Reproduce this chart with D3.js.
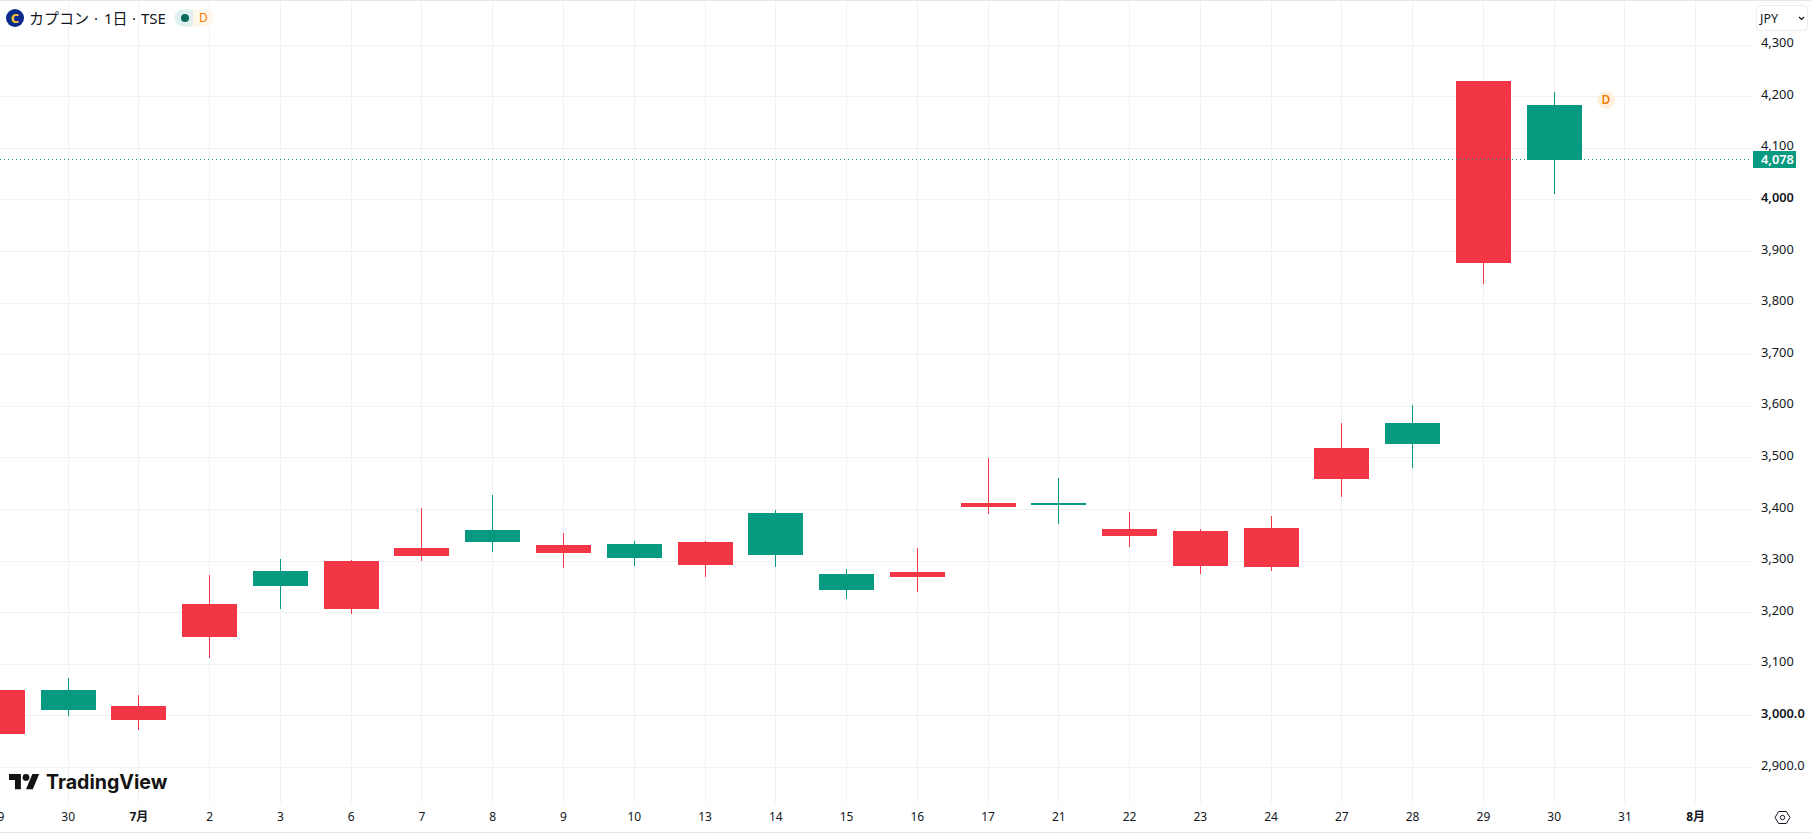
<!DOCTYPE html>
<html lang="ja">
<head>
<meta charset="utf-8">
<title>カプコン 1日足</title>
<script src="https://cdn.jsdelivr.net/npm/d3@7/dist/d3.min.js"></script>
<style>
  html, body { margin: 0; padding: 0; background: #fff; overflow: hidden; }
  svg { display: block; }
  text { font-family: "Noto Sans", "Noto Sans CJK JP", sans-serif; fill: #131722; }
</style>
</head>
<body>
<svg id="chart" width="1811" height="837"></svg>
<script>
// Daily sessions: the last two slots on the time axis have no trades yet.
const sessions = ["06-29","06-30","07-01","07-02","07-03","07-06","07-07","07-08","07-09","07-10","07-13","07-14","07-15","07-16","07-17","07-21","07-22","07-23","07-24","07-27","07-28","07-29","07-30","07-31","08-01"];
const timeLabels = ["29","30","7月","2","3","6","7","8","9","10","13","14","15","16","17","21","22","23","24","27","28","29","30","31","8月"];

// OHLC per traded session, in yen.
const opens  = [2964,3051,2993,3152,3281,3208,3310,3360,3316,3333,3292,3393.5,3275,3269,3405,3413,3349,3291,3289,3459,3568,3877,4185];
const highs  = [3051,3074,3041,3273,3304,3302,3403,3429,3355,3339,3339,3399,3284,3325,3499,3462,3395.5,3363,3388,3568,3602.5,4230,4210];
const lows   = [2964,3000.5,2973.5,3113,3206.5,3197,3300,3318,3286,3290,3269,3288,3226,3240,3392,3372,3327,3275,3281,3424.5,3481,3837,4011];
const closes = [3051,3012,3020,3216,3251,3300,3325,3337,3331,3306,3337,3312,3243.5,3279,3413,3409,3362,3359,3364.5,3519,3527,4230,4078];

const priceTicks = [2900,3000,3100,3200,3300,3400,3500,3600,3700,3800,3900,4000,4100,4200,4300];
const priceLabels = ["2,900.0","3,000.0","3,100","3,200","3,300","3,400","3,500","3,600","3,700","3,800","3,900","4,000","4,100","4,200","4,300"];
const boldPrices = [3000,4000];
const lastPrice = 4078;

const UP = "#f23645", DOWN = "#089981", GRID = "#f1f2f4";
const paneRight = 1752, paneBottom = 803, bodyWidth = 55;

const x = d3.scalePoint().domain(sessions).range([-2.58, 1695.66]);
const y = d3.scaleLinear().domain([2900, 4300]).range([767.5, 45.2]);
const crisp = v => Math.floor(v) + 0.5;

const svg = d3.select("#chart");

// Frame lines along the top and bottom edges.
svg.append("g").attr("stroke", "#e6e7ea").selectAll("line")
  .data([0.5, 832.5]).join("line")
  .attr("x1", 0).attr("x2", 1811).attr("y1", d => d).attr("y2", d => d);

// Grid.
const grid = svg.append("g").attr("stroke", GRID).attr("stroke-width", 1);
grid.selectAll(".h").data(priceTicks).join("line").attr("class", "h")
  .attr("x1", 0).attr("x2", paneRight)
  .attr("y1", d => crisp(y(d))).attr("y2", d => crisp(y(d)));
grid.selectAll(".v").data(sessions).join("line").attr("class", "v")
  .attr("y1", 1).attr("y2", paneBottom)
  .attr("x1", d => crisp(x(d))).attr("x2", d => crisp(x(d)));

// Candles.
const candles = opens.map((o, i) => ({
  session: sessions[i], open: o, high: highs[i], low: lows[i], close: closes[i]
}));
const candle = svg.append("g").attr("shape-rendering", "crispEdges")
  .selectAll("g").data(candles).join("g")
  .attr("fill", d => d.close >= d.open ? UP : DOWN);
candle.append("rect")
  .attr("x", d => Math.floor(x(d.session)))
  .attr("width", 1)
  .attr("y", d => Math.round(y(d.high)))
  .attr("height", d => Math.round(y(d.low)) - Math.round(y(d.high)));
candle.append("rect")
  .attr("x", d => Math.floor(x(d.session)) - 27)
  .attr("width", bodyWidth)
  .attr("y", d => Math.round(y(Math.max(d.open, d.close))))
  .attr("height", d => Math.max(2, Math.round(y(Math.min(d.open, d.close))) - Math.round(y(Math.max(d.open, d.close)))));

// Last-price line.
svg.append("line")
  .attr("x1", 0).attr("x2", paneRight)
  .attr("y1", crisp(y(lastPrice))).attr("y2", crisp(y(lastPrice)))
  .attr("stroke", DOWN).attr("stroke-width", 1)
  .attr("stroke-dasharray", "1 3");

// Price axis.
const priceAxis = d3.axisRight(y)
  .tickValues(priceTicks)
  .tickSize(0)
  .tickPadding(0)
  .tickFormat((d, i) => priceLabels[i]);
const priceG = svg.append("g")
  .attr("transform", "translate(1761,-2.5)")
  .call(priceAxis);
priceG.select(".domain").remove();
priceG.selectAll("text")
  .attr("font-size", 12.8)
  .attr("font-family", null)
  .attr("font-weight", d => boldPrices.includes(d) ? 600 : 400);

// Last-price tag.
svg.append("rect").attr("x", 1753).attr("y", 151).attr("width", 43).attr("height", 17).attr("fill", DOWN);
svg.append("text").attr("x", 1761).attr("y", y(lastPrice) + 4)
  .attr("font-size", 12.8).attr("font-weight", 600).style("fill", "#fff")
  .text(d3.format(",")(lastPrice));

// Time axis.
const timeAxis = d3.axisBottom(x)
  .tickSize(0)
  .tickPadding(0)
  .tickFormat((d, i) => timeLabels[i]);
const timeG = svg.append("g")
  .attr("transform", "translate(-0.5,812.5)")
  .call(timeAxis);
timeG.select(".domain").remove();
timeG.selectAll("text")
  .attr("font-size", 12)
  .attr("font-family", null)
  .attr("font-weight", (d, i) => timeLabels[i].includes("月") ? 700 : 400);

// Symbol title row.
const logo = svg.append("g").attr("transform", "translate(15,18)");
logo.append("circle").attr("r", 9).attr("fill", "#0c2a8c");
logo.append("text").attr("text-anchor", "middle").attr("y", 4.6)
  .attr("font-size", 13).attr("font-weight", 800).style("fill", "#f2c335").text("C");
svg.append("text").attr("x", 29).attr("y", 24).attr("font-size", 15).text("カプコン");
svg.append("text").attr("x", 94).attr("y", 24).attr("font-size", 15).text("·");
svg.append("text").attr("x", 104).attr("y", 24).attr("font-size", 15).text("1日");
svg.append("text").attr("x", 132).attr("y", 24).attr("font-size", 15).text("·");
svg.append("text").attr("x", 141).attr("y", 24).attr("font-size", 15).text("TSE");

// Status pill beside the title.
svg.append("path").attr("fill", "#dff1ee").attr("d", "M193 9.5H183a8.5 8.5 0 0 0 0 17H193Z");
svg.append("path").attr("fill", "#fff6ea").attr("d", "M193 9.5H205a8.5 8.5 0 0 1 0 17H193Z");
svg.append("circle").attr("cx", 185).attr("cy", 18).attr("r", 4).attr("fill", "#0b6b5e");
svg.append("text").attr("x", 203.5).attr("y", 22.3).attr("text-anchor", "middle")
  .attr("font-size", 12).style("fill", "#f57c00").text("D");

// Dividend marker next to the latest candle.
svg.append("circle").attr("cx", 1606).attr("cy", 100).attr("r", 9).attr("fill", "#fff0dc");
svg.append("text").attr("x", 1606).attr("y", 104.3).attr("text-anchor", "middle")
  .attr("font-size", 12).attr("font-weight", 600).style("fill", "#f57c00").text("D");

// Currency button.
svg.append("rect").attr("x", 1756.5).attr("y", 5.5).attr("width", 51).attr("height", 25).attr("rx", 4)
  .attr("fill", "#fff").attr("stroke", "#eceef1");
svg.append("text").attr("x", 1760).attr("y", 22.5).attr("font-size", 12.5).text("JPY");
svg.append("path").attr("d", "M1799 17l2.5 2.5 2.5-2.5").attr("fill", "none").attr("stroke", "#131722").attr("stroke-width", 1.2);

// Scale settings glyph.
const gear = svg.append("g").attr("transform", "translate(1782.5,817.5)").attr("fill", "none").attr("stroke", "#131722").attr("stroke-width", 1);
gear.append("path").attr("d", "M-7.5 0L-3.8-6H3.8L7.5 0L3.8 6H-3.8Z");
gear.append("circle").attr("r", 2.2);

// Brand mark.
const brand = svg.append("g").attr("transform", "translate(9,770.6) scale(0.85)").attr("fill", "#131313");
brand.append("path").attr("d", "M14 22H7V11H0V4h14v18zM28 22h-8l7.5-18h8L28 22z");
brand.append("circle").attr("cx", 20).attr("cy", 8).attr("r", 4);
svg.append("text").attr("x", 46).attr("y", 789).attr("font-size", 19.6).attr("font-weight", 700)
  .style("font-family", "Inter, sans-serif").style("fill", "#131313").text("TradingView");
</script>
</body>
</html>
